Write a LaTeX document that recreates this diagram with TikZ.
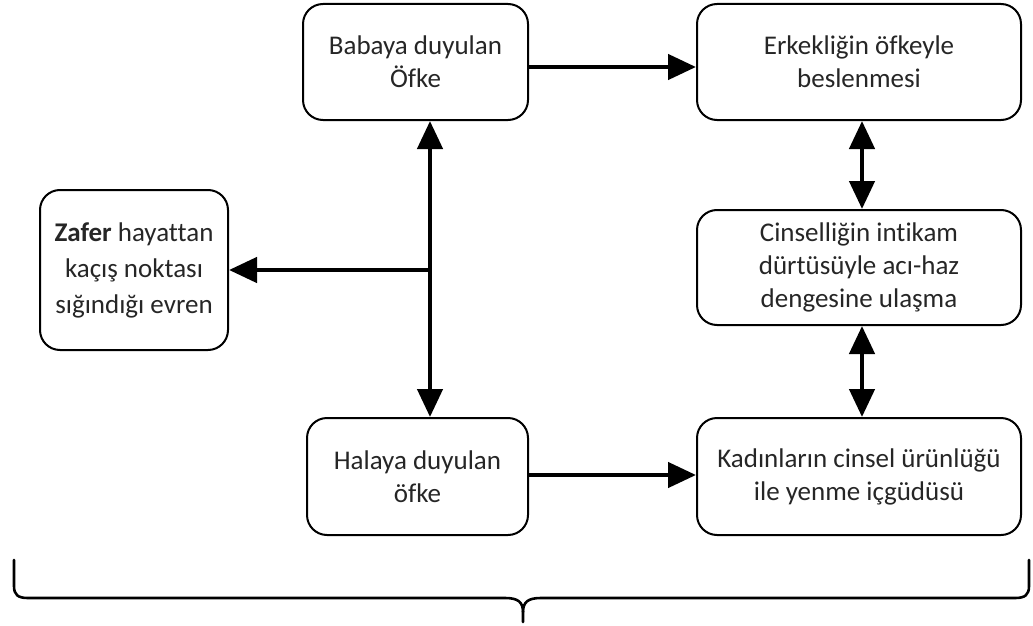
\documentclass[tikz,border=0pt]{standalone}
\usepackage{fontspec}
\setmainfont{Carlito}[Ligatures=NoCommon]
\usetikzlibrary{arrows.meta}
\begin{document}
\begin{tikzpicture}[x=1pt,y=-1pt,
  box/.style={draw, line width=2pt, rounded corners=20pt, align=center,
    font=\fontsize{27}{33}\selectfont, inner sep=0pt, text=black!85},
  tip/.style={Triangle[length=28pt,width=25pt]},
  arr/.style={line width=4.5pt, -{Triangle[length=28pt,width=25pt]}},
  dbl/.style={line width=4.5pt, {Triangle[length=28pt,width=25pt]}-{Triangle[length=28pt,width=25pt]}}]
\useasboundingbox (0,0) rectangle (1033,626);

\node[box, minimum width=225pt, minimum height=116pt] (babaya) at (415.5,62) {Babaya duyulan\\Öfke};
\node[box, minimum width=324pt, minimum height=116pt] (erkek) at (859,62) {Erkekliğin öfkeyle\\beslenmesi};
\node[box, minimum width=188pt, minimum height=160pt, font=\fontsize{27}{36}\selectfont] (zafer) at (134,270) {\textbf{Zafer} hayattan\\kaçış noktası\\sığındığı evren};
\node[box, minimum width=324pt, minimum height=115pt] (cins) at (859,267.5) {Cinselliğin intikam\\dürtüsüyle acı-haz\\dengesine ulaşma};
\node[box, minimum width=221pt, minimum height=117pt] (halaya) at (417.5,476.5) {Halaya duyulan\\öfke};
\node[box, minimum width=324pt, minimum height=117pt] (kadin) at (859,476.5) {Kadınların cinsel ürünlüğü\\ile yenme içgüdüsü};

\coordinate (j) at (430,270);
\coordinate (r) at (862,270);

\draw[arr] (babaya.east |- 0,67) -- (erkek.west |- 0,67);
\draw[arr] (halaya.east |- 0,475) -- (kadin.west |- 0,475);
\draw[dbl] (babaya.south -| j) -- (halaya.north -| j);
\draw[arr] (j) -- (zafer.east |- j);
\draw[dbl] (erkek.south -| r) -- (cins.north -| r);
\draw[dbl] (cins.south -| r) -- (kadin.north -| r);

% brace under the whole scheme
\coordinate (bl) at (14,560);
\coordinate (br) at (1029,560);
\coordinate (bt) at (523,622);
\draw[line width=2.6pt, line cap=round]
  (bl) -- (14,586) .. controls (14,595) and (18,598) .. (28,598)
  -- (505,598) .. controls (518,598) and (523,602) .. (523,612) -- (bt);
\draw[line width=2.6pt, line cap=round]
  (br) -- (1029,586) .. controls (1029,595) and (1025,598) .. (1015,598)
  -- (541,598) .. controls (528,598) and (523,602) .. (523,612);
\end{tikzpicture}
\end{document}
